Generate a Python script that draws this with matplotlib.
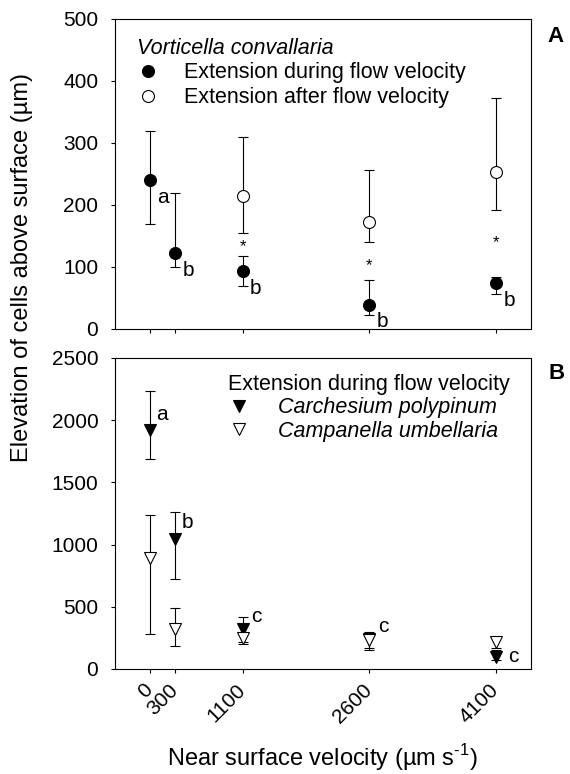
import numpy as np
import matplotlib
matplotlib.use("Agg")
import matplotlib.pyplot as plt
from matplotlib.lines import Line2D

plt.rcParams['font.family'] = ['Liberation Sans', 'DejaVu Sans']
plt.rcParams['mathtext.fontset'] = 'custom'
plt.rcParams['mathtext.rm'] = 'Liberation Sans'

# x positions (near surface velocity, um/s)
velocity = [0, 300, 1100, 2600, 4100]
velocity_labels = ["0", "300", "1100", "2600", "4100"]

# panel A - Vorticella convallaria
vort_during = [240, 122, 93, 39, 74]
vort_during_hi = [320, 220, 118, 79, 83]
vort_during_lo = [170, 100, 70, 23, 57]
vort_during_letters = ["a", "b", "b", "b", "b"]

vort_after_x = [1100, 2600, 4100]
vort_after = [215, 172, 253]
vort_after_hi = [310, 256, 373]
vort_after_lo = [155, 140, 192]

star_x = [1100, 2600, 4100]
star_y = [133, 102, 139]

# panel B - during flow
carch = [1923, 1046, 320, 240, 99]
carch_hi = [2237, 1263, 418, 270, 153]
carch_lo = [1690, 724, 217, 171, 75]
carch_letters = ["a", "b", "c", "", "c"]

campa = [890, 322, 250, 235, 220]
campa_hi = [1236, 488, 290, 300, 260]
campa_lo = [279, 185, 200, 153, 169]
campa_letters = ["", "", "", "c", ""]


def yerr(mean, hi, lo):
    mean = np.array(mean, dtype=float)
    return np.vstack([mean - np.array(lo), np.array(hi) - mean])


fig = plt.figure(figsize=(5.7, 7.74), dpi=100)
axA = fig.add_axes([0.2018, 0.575, 0.7298, 0.4005])
axB = fig.add_axes([0.2018, 0.1357, 0.7298, 0.4018])

eb = dict(ecolor='black', elinewidth=0.8, capsize=3.6, capthick=0.8, linestyle='none',
          markeredgecolor='black', markeredgewidth=0.8)

# --- panel A
axA.errorbar(velocity, vort_during, yerr=yerr(vort_during, vort_during_hi, vort_during_lo),
             marker='o', ms=8.6, markerfacecolor='black', zorder=3, **eb)
axA.errorbar(vort_after_x, vort_after, yerr=yerr(vort_after, vort_after_hi, vort_after_lo),
             marker='o', ms=8.6, markerfacecolor='white', zorder=3, **eb)

for x, y, t in zip(velocity, vort_during, vort_during_letters):
    axA.annotate(t, (x, y), xytext=(13, -17), textcoords='offset pixels',
                 ha='center', va='center', fontsize=15)
for x, y in zip(star_x, star_y):
    axA.text(x, y, "*", ha='center', va='center', fontsize=12)

axA.set_ylim(0, 500)
axA.set_yticks([0, 100, 200, 300, 400, 500])
axA.set_xticklabels([])

handlesA = [Line2D([], [], marker='o', ls='none', ms=8.6, mfc='black', mec='black', mew=0.8),
            Line2D([], [], marker='o', ls='none', ms=8.6, mfc='white', mec='black', mew=0.8)]
legA = axA.legend(handlesA, ["Extension during flow velocity", "Extension after flow velocity"],
                  title="Vorticella convallaria", title_fontproperties={'size': 15.5, 'style': 'italic'},
                  alignment='left', loc='upper left', bbox_to_anchor=(0.053, 0.94),
                  frameon=False, fontsize=15.5, handlelength=1.0, handletextpad=1.2,
                  labelspacing=0.18, borderpad=0, borderaxespad=0)

# --- panel B
axB.errorbar(velocity, carch, yerr=yerr(carch, carch_hi, carch_lo),
             marker='v', ms=8.5, markerfacecolor='black', zorder=3, **eb)
axB.errorbar(velocity, campa, yerr=yerr(campa, campa_hi, campa_lo),
             marker='v', ms=8.5, markerfacecolor='white', zorder=4, **eb)

letter_offsets = {0: (12, 15), 1: (12, 16), 2: (13, 13), 3: (14, 13), 4: (17, 0)}
for i, (x, y, t) in enumerate(zip(velocity, carch, carch_letters)):
    if t:
        axB.annotate(t, (x, y), xytext=letter_offsets[i], textcoords='offset pixels',
                     ha='center', va='center', fontsize=15)
for i, (x, y, t) in enumerate(zip(velocity, campa, campa_letters)):
    if t:
        axB.annotate(t, (x, y), xytext=letter_offsets[i], textcoords='offset pixels',
                     ha='center', va='center', fontsize=15)

axB.set_ylim(0, 2500)
axB.set_yticks([0, 500, 1000, 1500, 2000, 2500])
axB.set_xticklabels(velocity_labels, rotation=45, ha='right', va='center',
                    rotation_mode='anchor')

handlesB = [Line2D([], [], marker='v', ls='none', ms=8.5, mfc='black', mec='black', mew=0.8),
            Line2D([], [], marker='v', ls='none', ms=8.5, mfc='white', mec='black', mew=0.8)]
legB = axB.legend(handlesB, ["Carchesium polypinum", "Campanella umbellaria"],
                  title="Extension during flow velocity", title_fontproperties={'size': 15.5},
                  prop={'size': 15.5, 'style': 'italic'},
                  alignment='left', loc='upper left', bbox_to_anchor=(0.272, 0.95),
                  frameon=False, handlelength=1.0, handletextpad=1.3,
                  labelspacing=0.12, borderpad=0, borderaxespad=0)

for ax in (axA, axB):
    ax.set_xlim(-415, 4515)
    ax.set_xticks(velocity)
    ax.tick_params(direction='out', length=3, width=0.8, labelsize=15, pad=10,
                   top=False, right=False)
    ax.tick_params(axis='y', pad=9)
    for s in ax.spines.values():
        s.set_linewidth(0.8)

fig.text(0.974, 0.953, "A", fontsize=16, fontweight='bold', ha='center', va='center')
fig.text(0.976, 0.518, "B", fontsize=16, fontweight='bold', ha='center', va='center')

fig.text(0.038, 0.655, "Elevation of cells above surface (\u00b5m)", rotation=90,
         ha='center', va='center', fontsize=17)
fig.text(0.566, 0.021, "Near surface velocity (\u00b5m s$^{\\text{-1}}$)",
         ha='center', va='center', fontsize=17)

fig.savefig("out.png", dpi=100)
